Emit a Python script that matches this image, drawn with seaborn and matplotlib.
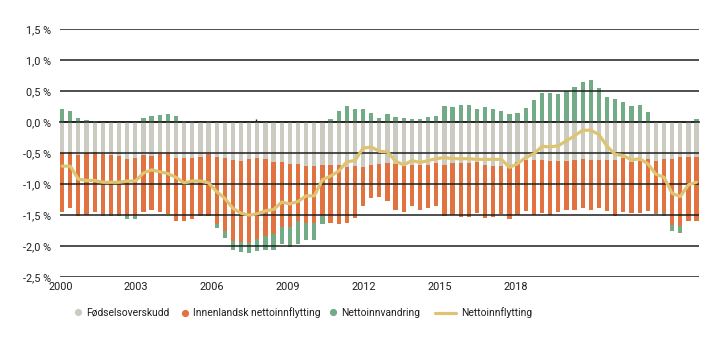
import numpy as np
import pandas as pd
import matplotlib
matplotlib.use("Agg")
import matplotlib.pyplot as plt
from matplotlib.lines import Line2D
import seaborn as sns

# ---------------- data (percent, quarterly) ----------------
fodselsoverskudd = [
    -0.50, -0.48, -0.53, -0.50, -0.48, -0.51, -0.53, -0.54, -0.59, -0.58,
    -0.53, -0.54, -0.51, -0.50, -0.58, -0.58, -0.58, -0.56, -0.51, -0.56,
    -0.58, -0.61, -0.62, -0.59, -0.58, -0.59, -0.64, -0.64, -0.67, -0.67,
    -0.70, -0.70, -0.69, -0.69, -0.69, -0.72, -0.70, -0.72, -0.69, -0.67,
    -0.66, -0.67, -0.70, -0.69, -0.69, -0.69, -0.66, -0.69, -0.66, -0.66,
    -0.66, -0.64, -0.69, -0.70, -0.70, -0.69, -0.64, -0.61, -0.61, -0.61,
    -0.62, -0.62, -0.62, -0.61, -0.59, -0.61, -0.61, -0.61, -0.61, -0.58,
    -0.64, -0.62, -0.59, -0.62, -0.59, -0.59, -0.56, -0.56, -0.56,
]
innenlandsk = [
    -0.95, -0.90, -0.98, -1.00, -0.97, -0.97, -0.96, -0.94, -0.93, -0.93,
    -0.92, -0.87, -0.94, -0.98, -1.01, -1.01, -0.98, -0.94, -1.01, -1.08,
    -1.18, -1.31, -1.31, -1.36, -1.31, -1.24, -1.16, -1.06, -1.03, -0.93,
    -0.92, -0.93, -0.83, -0.94, -0.96, -0.91, -0.85, -0.64, -0.54, -0.54,
    -0.62, -0.74, -0.75, -0.67, -0.72, -0.69, -0.70, -0.82, -0.84, -0.87,
    -0.87, -0.82, -0.85, -0.83, -0.79, -0.88, -0.86, -0.82, -0.89, -0.85,
    -0.88, -0.83, -0.80, -0.80, -0.79, -0.80, -0.77, -0.83, -0.90, -0.87,
    -0.83, -0.85, -0.85, -0.84, -0.88, -1.07, -1.11, -1.04, -1.03,
]
nettoinnvandring = [
    0.22, 0.18, 0.07, 0.04, 0.02, -0.03, -0.03, -0.03, -0.05, -0.05,
    0.07, 0.10, 0.12, 0.13, 0.10, 0.02, 0.02, -0.02, 0.02, -0.07,
    -0.11, -0.14, -0.17, -0.17, -0.19, -0.23, -0.26, -0.26, -0.31, -0.36,
    -0.29, -0.28, -0.12, 0.05, 0.18, 0.26, 0.22, 0.22, 0.15, 0.07,
    0.13, 0.09, 0.07, 0.05, 0.05, 0.09, 0.10, 0.26, 0.25, 0.28,
    0.28, 0.22, 0.25, 0.22, 0.18, 0.13, 0.15, 0.23, 0.36, 0.47,
    0.47, 0.46, 0.50, 0.57, 0.65, 0.68, 0.55, 0.41, 0.38, 0.33,
    0.26, 0.28, 0.17, -0.03, -0.04, -0.10, -0.12, 0.02, 0.05,
]
nettoinnflytting = [
    -0.71, -0.71, -0.92, -0.94, -0.94, -0.97, -0.97, -0.97, -0.95, -0.95,
    -0.82, -0.77, -0.80, -0.83, -0.89, -0.98, -0.95, -0.95, -0.98, -1.12,
    -1.23, -1.39, -1.47, -1.50, -1.48, -1.43, -1.41, -1.29, -1.32, -1.28,
    -1.19, -1.19, -0.93, -0.87, -0.79, -0.64, -0.62, -0.42, -0.40, -0.47,
    -0.48, -0.63, -0.69, -0.62, -0.65, -0.62, -0.59, -0.57, -0.59, -0.59,
    -0.59, -0.60, -0.60, -0.60, -0.60, -0.73, -0.67, -0.57, -0.51, -0.39,
    -0.40, -0.38, -0.30, -0.22, -0.13, -0.13, -0.20, -0.39, -0.52, -0.54,
    -0.61, -0.59, -0.67, -0.84, -0.89, -1.15, -1.20, -1.01, -0.97,
]
year_labels = ["2000", "2003", "2006", "2009", "2012", "2015", "2018"]
y_ticks = [1.5, 1.0, 0.5, 0.0, -0.5, -1.0, -1.5, -2.0, -2.5]
series_names = ["Fødselsoverskudd", "Innenlandsk nettoinnflytting",
                "Nettoinnvandring", "Nettoinnflytting"]

# ---------------- style ----------------
C_GREY = "#CCCBC1"
C_ORANGE = "#E0733F"
C_GREEN = "#72AB85"
C_GOLD = "#DEC470"
C_GRID = "#1E1E1E"
C_TEXT = "#1E1E1E"

sns.set_theme(style="white")
plt.rcParams["font.family"] = ["Roboto", "DejaVu Sans"]
plt.rcParams["font.size"] = 7.8

n = len(fodselsoverskudd)
idx = np.arange(n)
g = np.array(fodselsoverskudd)
o = np.array(innenlandsk)
m = np.array(nettoinnvandring)
df = pd.DataFrame({
    "q": idx,
    "grey": g,
    "orange": o,
    "orange_bottom": g,
    "green": m,
    "green_bottom": np.where(m > 0, 0.0, g + o),
    "line": nettoinnflytting,
})

W, H = 719, 341
fig = plt.figure(figsize=(W / 100, H / 100), dpi=100)
ax = fig.add_axes([60 / W, 1 - 277 / H, 639 / W, 247.7 / H])

bw = 0.52
sns.barplot(data=df, x="q", y="grey", color=C_GREY, width=bw, errorbar=None,
            saturation=1, ax=ax, zorder=1, linewidth=0)
sns.barplot(data=df, x="q", y="orange", bottom=df["orange_bottom"].values,
            color=C_ORANGE, width=bw, errorbar=None, saturation=1, ax=ax,
            zorder=1, linewidth=0)
sns.barplot(data=df, x="q", y="green", bottom=df["green_bottom"].values,
            color=C_GREEN, width=bw, errorbar=None, saturation=1, ax=ax,
            zorder=1, linewidth=0)
sns.lineplot(data=df, x="q", y="line", color=C_GOLD, linewidth=2.3, ax=ax,
             zorder=4)

ax.set_ylim(-2.5, 1.5)
ax.set_xlim(-0.26, n - 0.7)
ax.set_yticks(y_ticks)
ax.set_yticklabels([f"{v:.1f}".replace(".", ",") + " %" for v in y_ticks])
for v in y_ticks:
    ax.axhline(v, color=C_GRID, lw=1.1, zorder=2)

per_label = 9.33
ax.set_xticks([-0.21 + per_label * i for i in range(len(year_labels))])
ax.set_xticklabels(year_labels)
ax.tick_params(axis="both", length=0, colors=C_TEXT, labelsize=7.8)
ax.tick_params(axis="y", pad=6.5)
ax.tick_params(axis="x", pad=3.5)
ax.set_xlabel("")
ax.set_ylabel("")
for s in ax.spines.values():
    s.set_visible(False)
if ax.get_legend():
    ax.get_legend().remove()

# small tick marks on the zero line (every 12 quarters)
sec = ax.secondary_xaxis(2.5 / 4.0)
sec.set_xticks([-0.12 + 12 * k for k in range(7)])
sec.set_xticklabels([])
sec.tick_params(direction="out", length=2, width=1, colors=C_GRID)
sec.spines["bottom"].set_visible(False)

# legend
handles = [
    Line2D([], [], linestyle="none", marker="o", markersize=5.2,
           markerfacecolor=C_GREY, markeredgewidth=0),
    Line2D([], [], linestyle="none", marker="o", markersize=5.2,
           markerfacecolor=C_ORANGE, markeredgewidth=0),
    Line2D([], [], linestyle="none", marker="o", markersize=5.2,
           markerfacecolor=C_GREEN, markeredgewidth=0),
    Line2D([], [], color=C_GOLD, linewidth=2.3),
]
starts = [73.9, 180.6, 328.9, 435.0]
hlen = [0.8, 0.8, 0.8, 2.0]
hpad = [0.4, 0.4, 0.4, 0.5]
for h, name, x0, hl, hp in zip(handles, series_names, starts, hlen, hpad):
    fig.legend(handles=[h], labels=[name], loc="center left",
               bbox_to_anchor=(x0 / W, 1 - 313 / H),
               bbox_transform=fig.transFigure, frameon=False, borderpad=0,
               borderaxespad=0, handlelength=hl, handletextpad=hp,
               fontsize=7.4, labelcolor=C_TEXT)

fig.savefig("out.png", dpi=100)
